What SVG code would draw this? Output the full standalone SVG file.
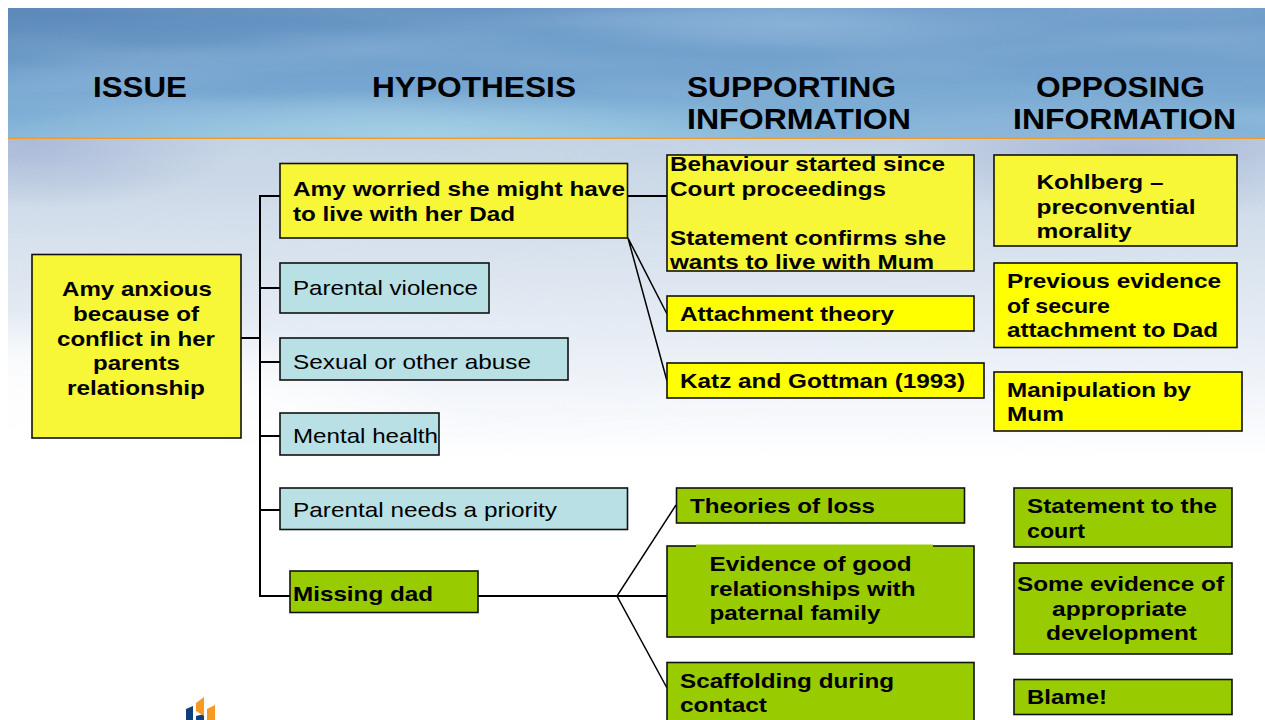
<svg xmlns="http://www.w3.org/2000/svg" width="1265" height="720" viewBox="0 0 1265 720">
<style>
text{font-family:"Liberation Sans",Arial,sans-serif;fill:#000;font-weight:bold;font-size:21px}
.h{font-size:29px}
.r{font-weight:normal}
.y,.p,.g,.t{stroke:#111;stroke-width:1.6}
.y{fill:#f7f738}.p{fill:#ffff00}.g{fill:#99cc00}.t{fill:#b9e0e4}
#connectors path{fill:none;stroke:#000;stroke-width:2}
#connectors .n{stroke-width:1.5}
</style>
<defs>
<linearGradient id="sky" x1="0" y1="0" x2="0" y2="1"><stop offset="0" stop-color="#6d9bc9"/><stop offset=".55" stop-color="#74a4cf"/><stop offset="1" stop-color="#86b5d9"/></linearGradient>
<linearGradient id="low" x1="0" y1="0" x2="0" y2="1"><stop offset="0" stop-color="#c3d2e3"/><stop offset=".3" stop-color="#d5e0ec"/><stop offset=".62" stop-color="#e7edf5"/><stop offset=".88" stop-color="#f7f9fc"/><stop offset="1" stop-color="#ffffff"/></linearGradient>
<linearGradient id="dl" x1="0" y1="0" x2="1" y2="1"><stop offset="0" stop-color="#4f7cae" stop-opacity=".7"/><stop offset=".3" stop-color="#4f7cae" stop-opacity="0"/></linearGradient>
<linearGradient id="fade" x1="0" y1="0" x2="0" y2="1"><stop offset="0" stop-color="#fff"/><stop offset=".55" stop-color="#fff" stop-opacity=".5"/><stop offset="1" stop-color="#fff" stop-opacity="0"/></linearGradient>
<mask id="fm" maskUnits="userSpaceOnUse" x="8" y="139" width="1257" height="320"><rect x="8" y="139" width="1257" height="320" fill="url(#fade)"/></mask>
<radialGradient id="wl" cx=".5" cy=".5" r=".5"><stop offset="0" stop-color="#fff"/><stop offset=".6" stop-color="#fff" stop-opacity=".75"/><stop offset="1" stop-color="#fff" stop-opacity="0"/></radialGradient>
<radialGradient id="gl" cx=".5" cy=".5" r=".5"><stop offset="0" stop-color="#a6d2e6" stop-opacity=".95"/><stop offset="1" stop-color="#a6d2e6" stop-opacity="0"/></radialGradient>
<radialGradient id="bl" cx=".5" cy=".5" r=".5"><stop offset="0" stop-color="#a3b3d5" stop-opacity=".85"/><stop offset="1" stop-color="#a3b3d5" stop-opacity="0"/></radialGradient>
<radialGradient id="tl" cx=".5" cy=".5" r=".5"><stop offset="0" stop-color="#8fb6da" stop-opacity=".8"/><stop offset="1" stop-color="#8fb6da" stop-opacity="0"/></radialGradient>
<clipPath id="hc"><rect x="8" y="8" width="1257" height="130"/></clipPath>
<clipPath id="lc"><rect x="8" y="139" width="1257" height="320"/></clipPath>
<filter id="wisp" x="0" y="0" width="100%" height="100%"><feTurbulence type="fractalNoise" baseFrequency=".003 .03" numOctaves="2" seed="7"/><feColorMatrix type="matrix" values="0 0 0 0 .75  0 0 0 0 .86  0 0 0 0 .95  1.4 0 0 0 -.55"/></filter>
</defs>
<rect width="1265" height="720" fill="#fff"/>
<g id="background">
<rect x="8" y="8" width="1257" height="130" fill="url(#sky)"/>
<rect x="8" y="8" width="1257" height="130" fill="url(#dl)"/>
<g clip-path="url(#hc)">
<rect x="8" y="8" width="1257" height="130" filter="url(#wisp)" opacity=".2"/>
<ellipse cx="420" cy="135" rx="420" ry="45" fill="url(#gl)"/>
<ellipse cx="800" cy="25" rx="260" ry="30" fill="url(#tl)"/>
<ellipse cx="1000" cy="130" rx="200" ry="30" fill="url(#tl)" opacity=".6"/>
</g>
<rect x="8" y="139" width="1257" height="320" fill="url(#low)"/>
<g clip-path="url(#lc)">
<ellipse cx="1130" cy="150" rx="230" ry="75" fill="url(#bl)"/>
<ellipse cx="30" cy="140" rx="210" ry="70" fill="url(#bl)"/>
<ellipse cx="60" cy="440" rx="420" ry="130" fill="url(#wl)"/>
<rect x="8" y="139" width="1257" height="320" filter="url(#wisp)" opacity=".2" mask="url(#fm)"/>
</g>
<rect x="8" y="137.500" width="1257" height="1.500" fill="#ee9c2a"/>
</g>
<g id="headers">
<text class="h" x="93" y="96.500" textLength="94" lengthAdjust="spacingAndGlyphs">ISSUE</text>
<text class="h" x="372" y="96.500" textLength="204" lengthAdjust="spacingAndGlyphs">HYPOTHESIS</text>
<text class="h" x="687" y="96.500" textLength="209" lengthAdjust="spacingAndGlyphs">SUPPORTING</text>
<text class="h" x="687" y="128.500" textLength="224" lengthAdjust="spacingAndGlyphs">INFORMATION</text>
<text class="h" x="1036" y="96.500" textLength="169" lengthAdjust="spacingAndGlyphs">OPPOSING</text>
<text class="h" x="1013" y="128.500" textLength="223" lengthAdjust="spacingAndGlyphs">INFORMATION</text>
</g>
<g id="connectors">
<path d="M241 338H260"/>
<path d="M280 196H260V596H290"/>
<path d="M260 288H280M260 362H280M260 436H280M260 510H280"/>
<path d="M628 196H667"/>
<path class="n" d="M628 238L667 314M628 238L667 381"/>
<path d="M478 596H667"/>
<path class="n" d="M676 505L617 596L667 688"/>
</g>
<g id="issue"><rect class="y" x="32" y="254.500" width="209" height="183.500"/>
<text x="62" y="296" textLength="150" lengthAdjust="spacingAndGlyphs">Amy anxious</text>
<text x="73" y="321" textLength="126" lengthAdjust="spacingAndGlyphs">because of</text>
<text x="57" y="346" textLength="158" lengthAdjust="spacingAndGlyphs">conflict in her</text>
<text x="93" y="370" textLength="87" lengthAdjust="spacingAndGlyphs">parents</text>
<text x="67" y="395" textLength="138" lengthAdjust="spacingAndGlyphs">relationship</text></g>
<g id="h-worried"><rect class="y" x="280" y="163.500" width="347.500" height="74.500"/>
<text x="293" y="196" textLength="332" lengthAdjust="spacingAndGlyphs">Amy worried she might have</text>
<text x="293" y="221" textLength="222" lengthAdjust="spacingAndGlyphs">to live with her Dad</text></g>
<g id="h-violence"><rect class="t" x="280" y="263" width="209" height="50"/>
<text class="r" x="293" y="295" textLength="185" lengthAdjust="spacingAndGlyphs">Parental violence</text></g>
<g id="h-abuse"><rect class="t" x="280" y="338" width="288" height="42"/>
<text class="r" x="293" y="369" textLength="238" lengthAdjust="spacingAndGlyphs">Sexual or other abuse</text></g>
<g id="h-mental"><rect class="t" x="280" y="413" width="159" height="42"/>
<text class="r" x="293" y="443" textLength="145" lengthAdjust="spacingAndGlyphs">Mental health</text></g>
<g id="h-needs"><rect class="t" x="280" y="488" width="347.500" height="41.500"/>
<text class="r" x="293" y="517" textLength="264" lengthAdjust="spacingAndGlyphs">Parental needs a priority</text></g>
<g id="h-missing"><rect class="g" x="290" y="571" width="188" height="41.500"/>
<text x="293" y="601" textLength="140" lengthAdjust="spacingAndGlyphs">Missing dad</text></g>
<g id="s-behaviour"><rect class="y" x="667" y="155" width="307" height="116"/>
<text x="670" y="170.500" textLength="275" lengthAdjust="spacingAndGlyphs">Behaviour started since</text>
<text x="670" y="195.500" textLength="216" lengthAdjust="spacingAndGlyphs">Court proceedings</text>
<text x="670" y="244.500" textLength="276" lengthAdjust="spacingAndGlyphs">Statement confirms she</text>
<text x="670" y="269" textLength="264" lengthAdjust="spacingAndGlyphs">wants to live with Mum</text></g>
<g id="s-attachment"><rect class="p" x="667" y="296" width="307" height="35"/>
<text x="680" y="321" textLength="214" lengthAdjust="spacingAndGlyphs">Attachment theory</text></g>
<g id="s-katz"><rect class="p" x="667" y="363" width="317" height="35"/>
<text x="680" y="388" textLength="285" lengthAdjust="spacingAndGlyphs">Katz and Gottman (1993)</text></g>
<g id="o-kohlberg"><rect class="y" x="994" y="155" width="243" height="91"/>
<text x="1036.500" y="189" textLength="127" lengthAdjust="spacingAndGlyphs">Kohlberg –</text>
<text x="1036.500" y="214" textLength="159" lengthAdjust="spacingAndGlyphs">preconvential</text>
<text x="1036.500" y="238" textLength="95" lengthAdjust="spacingAndGlyphs">morality</text></g>
<g id="o-previous"><rect class="p" x="994" y="263" width="243" height="84.500"/>
<text x="1007" y="288" textLength="214" lengthAdjust="spacingAndGlyphs">Previous evidence</text>
<text x="1007" y="313" textLength="103" lengthAdjust="spacingAndGlyphs">of secure</text>
<text x="1007" y="337" textLength="211" lengthAdjust="spacingAndGlyphs">attachment to Dad</text></g>
<g id="o-manipulation"><rect class="p" x="994" y="372" width="248" height="59"/>
<text x="1007" y="397" textLength="184" lengthAdjust="spacingAndGlyphs">Manipulation by</text>
<text x="1007" y="421" textLength="57" lengthAdjust="spacingAndGlyphs">Mum</text></g>
<g id="s-loss"><rect class="g" x="676.500" y="488" width="288" height="35"/>
<text x="690" y="513" textLength="185" lengthAdjust="spacingAndGlyphs">Theories of loss</text></g>
<g id="s-evidence"><rect class="g" x="667" y="546" width="307" height="91"/>
<rect x="696" y="544.500" width="237" height="3" fill="#99cc00"/>
<text x="709.500" y="571" textLength="202" lengthAdjust="spacingAndGlyphs">Evidence of good</text>
<text x="709.500" y="596" textLength="206" lengthAdjust="spacingAndGlyphs">relationships with</text>
<text x="709.500" y="620" textLength="171" lengthAdjust="spacingAndGlyphs">paternal family</text></g>
<g id="s-scaffolding"><rect class="g" x="667" y="662.500" width="307" height="70"/>
<text x="680" y="688" textLength="214" lengthAdjust="spacingAndGlyphs">Scaffolding during</text>
<text x="680" y="712" textLength="87" lengthAdjust="spacingAndGlyphs">contact</text></g>
<g id="o-statement"><rect class="g" x="1014" y="488" width="218" height="59"/>
<text x="1027" y="513" textLength="190" lengthAdjust="spacingAndGlyphs">Statement to the</text>
<text x="1027" y="538" textLength="58" lengthAdjust="spacingAndGlyphs">court</text></g>
<g id="o-some"><rect class="g" x="1014" y="563" width="218" height="91"/>
<text x="1017" y="591" textLength="207" lengthAdjust="spacingAndGlyphs">Some evidence of</text>
<text x="1052" y="616" textLength="135" lengthAdjust="spacingAndGlyphs">appropriate</text>
<text x="1046" y="640" textLength="151" lengthAdjust="spacingAndGlyphs">development</text></g>
<g id="o-blame"><rect class="g" x="1014" y="679.500" width="218" height="35"/>
<text x="1027" y="704" textLength="80" lengthAdjust="spacingAndGlyphs">Blame!</text></g>
<g id="logo">
<path d="M186 720V709L193 706V720Z" fill="#0d3f7a"/>
<path d="M196 720V716L204 714V720Z" fill="#0d3f7a"/>
<path d="M196 703L204 697V716L196 711Z" fill="#f59a23"/>
<path d="M207 709L215 705V720H207Z" fill="#f59a23"/>
</g>
</svg>
